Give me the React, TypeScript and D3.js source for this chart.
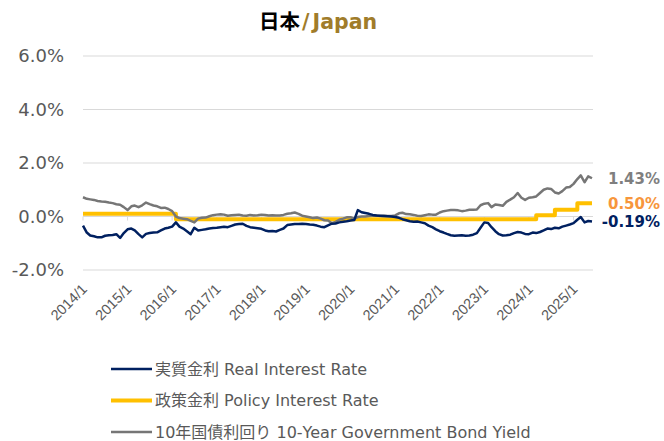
import React from 'react';
import * as d3 from 'd3';

const width = 664;
const height = 441;

// monthly, 2014/1 .. 2025/6
const startMonth = new Date(2014, 0, 1);
const endMonth = new Date(2025, 5, 1);

const realRate = [
  -0.34, -0.60, -0.71, -0.74, -0.78, -0.78, -0.72, -0.70, -0.69, -0.66, -0.80, -0.62,
  -0.48, -0.45, -0.52, -0.66, -0.78, -0.65, -0.62, -0.60, -0.59, -0.52, -0.45, -0.42,
  -0.38, -0.22, -0.38, -0.45, -0.55, -0.66, -0.42, -0.52, -0.50, -0.48, -0.45, -0.43,
  -0.42, -0.40, -0.38, -0.40, -0.35, -0.30, -0.28, -0.27, -0.35, -0.40, -0.42, -0.44,
  -0.46, -0.52, -0.55, -0.54, -0.56, -0.50, -0.45, -0.32, -0.30, -0.28, -0.28, -0.27,
  -0.28, -0.30, -0.31, -0.34, -0.38, -0.40, -0.33, -0.27, -0.26, -0.22, -0.20, -0.18,
  -0.15, -0.13, 0.24, 0.16, 0.13, 0.10, 0.06, 0.04, 0.03, 0.02, 0.01, 0.00,
  -0.02, -0.05, -0.10, -0.14, -0.18, -0.20, -0.19, -0.22, -0.25, -0.34, -0.40, -0.48,
  -0.55, -0.60, -0.65, -0.70, -0.72, -0.71, -0.70, -0.72, -0.71, -0.68, -0.62, -0.42,
  -0.22, -0.24, -0.40, -0.55, -0.66, -0.71, -0.70, -0.68, -0.62, -0.58, -0.60, -0.65,
  -0.66, -0.60, -0.62, -0.58, -0.52, -0.45, -0.47, -0.42, -0.44, -0.38, -0.34, -0.30,
  -0.25, -0.12, -0.02, -0.22, -0.17, -0.19,
];

const policyRate = [
  0.1, 0.1, 0.1, 0.1, 0.1, 0.1, 0.1, 0.1, 0.1, 0.1, 0.1, 0.1,
  0.1, 0.1, 0.1, 0.1, 0.1, 0.1, 0.1, 0.1, 0.1, 0.1, 0.1, 0.1,
  0.1, -0.1, -0.1, -0.1, -0.1, -0.1, -0.1, -0.1, -0.1, -0.1, -0.1, -0.1,
  -0.1, -0.1, -0.1, -0.1, -0.1, -0.1, -0.1, -0.1, -0.1, -0.1, -0.1, -0.1,
  -0.1, -0.1, -0.1, -0.1, -0.1, -0.1, -0.1, -0.1, -0.1, -0.1, -0.1, -0.1,
  -0.1, -0.1, -0.1, -0.1, -0.1, -0.1, -0.1, -0.1, -0.1, -0.1, -0.1, -0.1,
  -0.1, -0.1, -0.1, -0.1, -0.1, -0.1, -0.1, -0.1, -0.1, -0.1, -0.1, -0.1,
  -0.1, -0.1, -0.1, -0.1, -0.1, -0.1, -0.1, -0.1, -0.1, -0.1, -0.1, -0.1,
  -0.1, -0.1, -0.1, -0.1, -0.1, -0.1, -0.1, -0.1, -0.1, -0.1, -0.1, -0.1,
  -0.1, -0.1, -0.1, -0.1, -0.1, -0.1, -0.1, -0.1, -0.1, -0.1, -0.1, -0.1,
  -0.1, -0.1, 0.05, 0.05, 0.05, 0.05, 0.05, 0.25, 0.25, 0.25, 0.25, 0.25,
  0.25, 0.5, 0.5, 0.5, 0.5, 0.5,
];

const bondYield = [
  0.72, 0.66, 0.64, 0.62, 0.58, 0.56, 0.55, 0.52, 0.50, 0.46, 0.44, 0.35,
  0.24, 0.38, 0.41, 0.35, 0.42, 0.52, 0.46, 0.41, 0.38, 0.32, 0.33, 0.28,
  0.20, 0.00, -0.06, -0.08, -0.10, -0.16, -0.22, -0.08, -0.05, -0.04, 0.01, 0.05,
  0.07, 0.08, 0.07, 0.03, 0.05, 0.06, 0.07, 0.04, 0.03, 0.06, 0.04, 0.05,
  0.07, 0.06, 0.04, 0.05, 0.04, 0.04, 0.06, 0.10, 0.12, 0.15, 0.10, 0.03,
  0.00, -0.03, -0.06, -0.04, -0.08, -0.14, -0.15, -0.25, -0.20, -0.12, -0.08, -0.03,
  -0.03, -0.08, -0.02, 0.00, 0.00, 0.02, 0.03, 0.04, 0.02, 0.03, 0.02, 0.02,
  0.04, 0.12, 0.14, 0.09, 0.08, 0.06, 0.03, 0.02, 0.05, 0.08, 0.07, 0.07,
  0.15, 0.20, 0.22, 0.24, 0.24, 0.23, 0.20, 0.22, 0.25, 0.25, 0.26, 0.42,
  0.48, 0.50, 0.35, 0.45, 0.43, 0.40, 0.55, 0.63, 0.72, 0.88, 0.70, 0.62,
  0.70, 0.72, 0.75, 0.88, 1.00, 1.05, 1.03, 0.90, 0.86, 0.95, 1.08, 1.10,
  1.22, 1.40, 1.54, 1.28, 1.50, 1.43,
];

const yTicks = [-2, 0, 2, 4, 6];
const seriesNames = [
  '実質金利 Real Interest Rate',
  '政策金利 Policy Interest Rate',
  '10年国債利回り 10-Year Government Bond Yield',
];
const endLabels = ['-0.19%', '0.50%', '1.43%'];

const font = '"DejaVu Sans", "Noto Sans CJK JP", sans-serif';
const textGray = '#595959';

const App = () => {
  const months = d3.timeMonth.range(startMonth, d3.timeMonth.offset(endMonth, 1));
  const x = d3.scaleTime().domain([startMonth, endMonth]).range([83, 592]);
  const y = d3.scaleLinear().domain([-2, 6]).range([270, 56]);
  const years = d3.timeYear.range(startMonth, endMonth);

  const line = d3.line<number>()
    .x((d, i) => x(months[i]))
    .y(d => y(d));
  const stepLine = d3.line<number>()
    .x((d, i) => x(months[i]))
    .y(d => y(d))
    .curve(d3.curveStepAfter);

  const series = [
    { name: seriesNames[0], data: realRate, color: '#002060', w: 2.5, gen: line, label: endLabels[0], labelColor: '#002060' },
    { name: seriesNames[1], data: policyRate, color: '#FFC000', w: 4, gen: stepLine, label: endLabels[1], labelColor: '#F7963C' },
    { name: seriesNames[2], data: bondYield, color: '#767676', w: 2.5, gen: line, label: endLabels[2], labelColor: '#7F7F7F' },
  ];
  const drawOrder = [1, 2, 0];

  return (
    <svg width={width} height={height} style={{ position: 'absolute', left: 0, top: 0, background: '#fff' }}>
      <text x={259} y={29} fontFamily={font} fontWeight="bold" fontSize={20.5}>
        <tspan fill="#000">日本</tspan>
        <tspan fill="#A07C2A" dx={2}>/</tspan>
        <tspan fill="#A07C2A" dx={3}>Japan</tspan>
      </text>

      {yTicks.map(t => (
        <g key={t}>
          {t !== 0 && <line x1={83} x2={593} y1={y(t)} y2={y(t)} stroke="#d9d9d9" strokeWidth={1} />}
          <text x={64} y={y(t) + 6} textAnchor="end" fontFamily={font} fontSize={18} fill={textGray}>
            {t.toFixed(1) + '%'}
          </text>
        </g>
      ))}

      <line x1={83} x2={593} y1={y(0)} y2={y(0)} stroke="#d9d9d9" strokeWidth={1} />
      {years.map(d => (
        <g key={d.getFullYear()}>
          <line x1={x(d)} x2={x(d)} y1={y(0)} y2={y(0) + 4} stroke="#d9d9d9" />
          <text
            transform={`translate(${x(d) + 5},${290}) rotate(-45)`}
            textAnchor="end"
            fontFamily='"Liberation Sans", sans-serif'
            fontSize={14.5}
            fill={textGray}
          >
            {d.getFullYear() + '/1'}
          </text>
        </g>
      ))}

      {drawOrder.map(i => (
        <path key={i} d={series[i].gen(series[i].data) || ''} fill="none"
          stroke={series[i].color} strokeWidth={series[i].w} strokeLinejoin="round" />
      ))}

      {series.map(s => (
        <text key={s.label} x={660} y={y(s.data[s.data.length - 1]) + 5.5} textAnchor="end"
          fontFamily={font} fontWeight="bold" fontSize={15} fill={s.labelColor}>
          {s.label}
        </text>
      ))}

      {series.map((s, i) => (
        <g key={s.name} transform={`translate(0,${369 + i * 31.5})`}>
          <line x1={111} x2={152} y1={0} y2={0} stroke={s.color} strokeWidth={s.w} />
          <text x={155} y={5.5} fontFamily={font} fontSize={16} fill={textGray}>{s.name}</text>
        </g>
      ))}
    </svg>
  );
};

export default App;
